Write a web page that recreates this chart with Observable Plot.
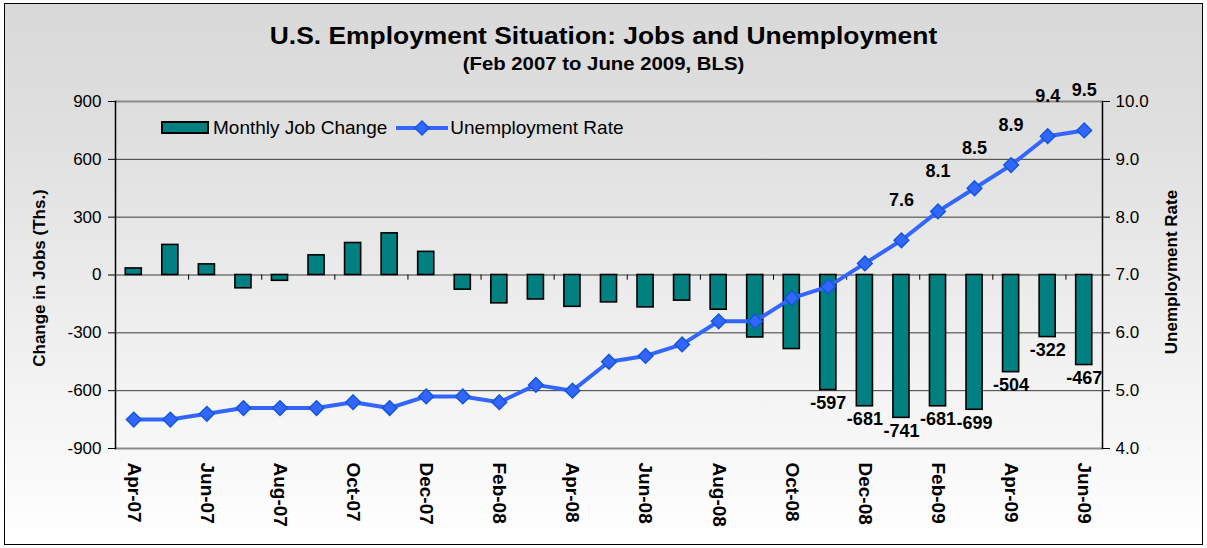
<!DOCTYPE html>
<html>
<head>
<meta charset="utf-8">
<script src="https://cdn.jsdelivr.net/npm/d3@7"></script>
<script src="https://cdn.jsdelivr.net/npm/@observablehq/plot@0.6"></script>
<style>
  html, body { margin: 0; padding: 0; }
  body { width: 1207px; height: 548px; overflow: hidden; position: relative; background: #fff;
         font-family: "Liberation Sans", Arial, sans-serif; color: #000; }
  #frame { position: absolute; left: 4px; top: 3px; width: 1197px; height: 540px;
           border: 1.5px solid #000; background: linear-gradient(#d9d9d9, #dedede 20%, #ffffff 100%); }
  #chart { position: absolute; left: 0; top: 0; }
  .title { position: absolute; left: 0; width: 1207px; text-align: center; font-weight: bold; white-space: nowrap; }
  #t1 { top: 22px; font-size: 24px; transform: scaleX(1.1); }
  #t2 { top: 53px; font-size: 18.5px; transform: scaleX(1.1); }
  .ytitle { position: absolute; font-weight: bold; font-size: 17px; white-space: nowrap; transform-origin: center; }
  #yl { left: 40px; top: 278px; transform: translate(-50%, -50%) rotate(-90deg); }
  #yr { left: 1172px; top: 272px; transform: translate(-50%, -50%) rotate(-90deg); }
  #legend { position: absolute; left: 161px; top: 117px; display: flex; align-items: center; font-size: 19px; white-space: nowrap; }
  #legend svg { display: block; }
</style>
</head>
<body>
<div id="frame"></div>
<div id="chart"></div>
<div class="title" id="t1">U.S. Employment Situation: Jobs and Unemployment</div>
<div class="title" id="t2">(Feb 2007 to June 2009, BLS)</div>
<div class="ytitle" id="yl">Change in Jobs (Ths.)</div>
<div class="ytitle" id="yr">Unemployment Rate</div>
<div id="legend"></div>
<script>
// ---- data ----
const months = ["Apr-07","May-07","Jun-07","Jul-07","Aug-07","Sep-07","Oct-07","Nov-07","Dec-07",
  "Jan-08","Feb-08","Mar-08","Apr-08","May-08","Jun-08","Jul-08","Aug-08","Sep-08","Oct-08","Nov-08","Dec-08",
  "Jan-09","Feb-09","Mar-09","Apr-09","May-09","Jun-09"];
const jobChange = [34,156,55,-69,-30,102,166,216,120,
  -76,-147,-127,-165,-142,-168,-133,-180,-324,-384,-597,-681,
  -741,-681,-699,-504,-322,-467];
const unemploymentRate = [4.5,4.5,4.6,4.7,4.7,4.7,4.8,4.7,4.9,
  4.9,4.8,5.1,5.0,5.5,5.6,5.8,6.2,6.2,6.6,6.8,7.2,
  7.6,8.1,8.5,8.9,9.4,9.5];
const leftTicks = [-900,-600,-300,0,300,600,900];
const rightTicks = [4.0,5.0,6.0,7.0,8.0,9.0,10.0];
const xTickLabels = months.filter((d, i) => i % 2 === 0);
const jobLabelFrom = "Nov-08";
const rateLabelFrom = "Jan-09";

// ---- build ----
const data = months.map((m, i) => ({month: m, jobs: jobChange[i], rate: unemploymentRate[i], i}));
// right axis (rate) mapped onto the left (jobs) scale: 4.0 -> -900, 10.0 -> 900
const rateToJobs = r => (r - 7) * 300;
const jobsToRate = v => v / 300 + 7;
const jobFromIdx = months.indexOf(jobLabelFrom);
const rateFromIdx = months.indexOf(rateLabelFrom);
const boundaries = months.filter((d, i) => i > 0 && i % 2 === 0);

const W = 1207, H = 548, mL = 115, mR = 105;
const step = (W - mL - mR) / months.length;

const blue = "#3366ff";
const chart = Plot.plot({
  width: W, height: H,
  marginLeft: mL, marginRight: mR, marginTop: 101, marginBottom: 100,
  style: {background: "transparent", fontFamily: "Liberation Sans, Arial, sans-serif", color: "#000", overflow: "visible"},
  x: {type: "band", domain: months, paddingInner: 0.56, paddingOuter: 0.28, align: 0.5, round: false},
  y: {domain: [-900, 900]},
  marks: [
    Plot.ruleY(leftTicks.filter(v => Math.abs(v) < 900), {y: d => d, stroke: "#3c3c3c", strokeWidth: 1}),
    Plot.ruleY([-900, 900], {y: d => d, stroke: "#8a8a8a", strokeWidth: 2}),
    Plot.barY(data, {x: "month", y: "jobs", fill: "#008080", stroke: "#000", strokeWidth: 1.6}),
    Plot.ruleX(boundaries, {x: d => d, y1: 0, y2: -27, dx: -step / 2, stroke: "#000", strokeWidth: 1}),
    Plot.frame({anchor: "left", stroke: "#000", strokeWidth: 1.5}),
    Plot.frame({anchor: "right", stroke: "#000", strokeWidth: 1.5}),
    Plot.axisY({anchor: "left", ticks: leftTicks, tickSize: 7, tickPadding: 7, fontSize: 17, label: null, tickFormat: d => String(d)}),
    Plot.axisY({anchor: "right", ticks: rightTicks.map(rateToJobs), tickSize: 7, tickPadding: 6, fontSize: 17, label: null,
      tickFormat: v => jobsToRate(v).toFixed(1)}),
    Plot.axisX({anchor: "bottom", ticks: xTickLabels, tickSize: 0, tickPadding: 14, tickRotate: 90,
      fontSize: 19, fontWeight: "bold", label: null}),
    Plot.line(data, {x: "month", y: d => rateToJobs(d.rate), stroke: blue, strokeWidth: 4}),
    Plot.dot(data, {x: "month", y: d => rateToJobs(d.rate), symbol: "diamond2", r: 6.6, fill: blue, stroke: "#1457d6", strokeWidth: 1.5}),
    Plot.text(data.filter(d => d.i >= jobFromIdx), {x: "month", y: "jobs", text: d => String(d.jobs), dy: 13,
      fontSize: 18, fontWeight: "bold", lineAnchor: "middle", fill: "#000"}),
    Plot.text(data.filter(d => d.i >= rateFromIdx), {x: "month", y: d => rateToJobs(d.rate), text: d => d.rate.toFixed(1), dy: -40,
      fontSize: 18, fontWeight: "bold", lineAnchor: "middle", fill: "#000"})
  ]
});
document.getElementById("chart").appendChild(chart);

// legend
const legend = document.getElementById("legend");
legend.innerHTML =
  `<svg width="48" height="14"><rect x="1" y="1" width="46" height="11" fill="#008080" stroke="#000" stroke-width="2"/></svg>` +
  `<span style="margin-left:4px">Monthly Job Change</span>` +
  `<svg width="52" height="18" style="margin-left:9px"><line x1="0" y1="9" x2="52" y2="9" stroke="${blue}" stroke-width="4"/>` +
  `<path d="M26,2 L33,9 L26,16 L19,9 Z" fill="${blue}" stroke="#1457d6" stroke-width="1.5"/></svg>` +
  `<span style="margin-left:2px">Unemployment Rate</span>`;
</script>
</body>
</html>
